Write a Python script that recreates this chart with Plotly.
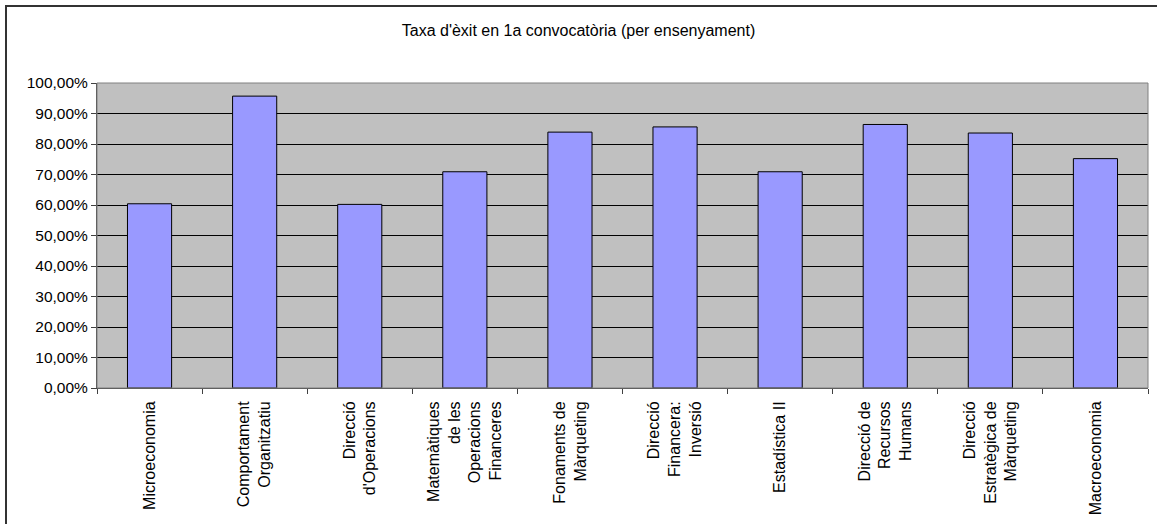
import plotly.graph_objects as go

categories = [
    "Microeconomia",
    "Comportament<br>Organitzatiu",
    "Direcció<br>d'Operacions",
    "Matemàtiques<br>de les<br>Operacions<br>Financeres",
    "Fonaments de<br>Màrqueting",
    "Direcció<br>Financera:<br>Inversió",
    "Estadística II",
    "Direcció de<br>Recursos<br>Humans",
    "Direcció<br>Estratègica de<br>Màrqueting",
    "Macroeconomia",
]
values = [0.604, 0.957, 0.602, 0.709, 0.839, 0.856, 0.709, 0.864, 0.836, 0.752]
title_text = "Taxa d'èxit en 1a convocatòria (per ensenyament)"

W, H = 1157, 524
L, R, T, B = 97, 9, 83, 136
pw, ph = W - L - R, H - T - B
font = "Liberation Sans, Arial, sans-serif"

fig = go.Figure(
    go.Bar(
        x=categories,
        y=values,
        marker=dict(color="#9999FF", line=dict(color="#000000", width=1)),
    )
)

fig.update_layout(
    width=W,
    height=H,
    margin=dict(l=L, r=R, t=T, b=B, pad=0),
    paper_bgcolor="#FFFFFF",
    plot_bgcolor="#C0C0C0",
    separators=",.",
    bargap=0.58,
    showlegend=False,
    font=dict(family=font, size=16, color="#000000"),
    title=dict(
        text=title_text,
        x=0.5,
        xref="container",
        xanchor="center",
        y=1 - 30 / H,
        yref="container",
        yanchor="middle",
        font=dict(family=font, size=16, color="#000000"),
    ),
    shapes=[
        dict(
            type="rect", xref="paper", yref="paper",
            x0=(6 - L) / pw, x1=1.2, y0=-0.8, y1=(H - B - 6) / ph,
            line=dict(color="#333333", width=2), fillcolor="rgba(0,0,0,0)",
            layer="below",
        ),
        dict(
            type="rect", xref="paper", yref="paper",
            x0=0, x1=1, y0=0, y1=1,
            line=dict(color="#808080", width=1), fillcolor="rgba(0,0,0,0)",
            layer="above",
        ),
    ],
)

fig.update_xaxes(
    type="category",
    tickangle=-90,
    ticks="outside",
    tickson="boundaries",
    ticklen=5,
    tickcolor="#404040",
    ticklabelstandoff=6,
    showline=True,
    linecolor="#404040",
    linewidth=1,
    showgrid=False,
    tickfont=dict(family=font, size=16, color="#000000"),
)
fig.update_yaxes(
    range=[0, 1],
    dtick=0.1,
    tickformat=".2%",
    ticks="outside",
    ticklen=5,
    tickcolor="#404040",
    showline=True,
    linecolor="#404040",
    linewidth=1,
    showgrid=True,
    gridcolor="#000000",
    gridwidth=1,
    zeroline=False,
    tickfont=dict(family=font, size=15.5, color="#000000"),
)

fig.write_html(
    "out.html",
    config={"displayModeBar": False},
    post_script="document.body.style.margin='0';document.body.style.overflow='hidden';",
)
